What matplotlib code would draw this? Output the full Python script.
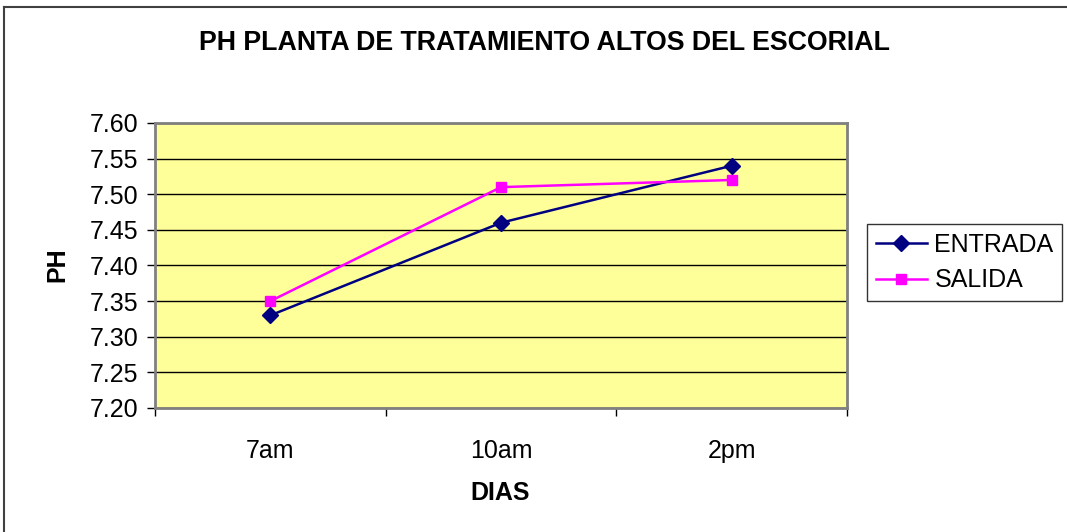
import numpy as np
import matplotlib.pyplot as plt
from matplotlib.lines import Line2D

plt.rcParams['font.family'] = ['Liberation Sans', 'DejaVu Sans']

horas = ["7am", "10am", "2pm"]
entrada = [7.33, 7.46, 7.54]
salida = [7.35, 7.51, 7.52]
yticks = [7.20, 7.25, 7.30, 7.35, 7.40, 7.45, 7.50, 7.55, 7.60]

fig = plt.figure(figsize=(10.67, 5.32), dpi=100)
ax = fig.add_axes([0.1453, 0.2331, 0.6485, 0.5357])
ax.set_facecolor("#FFFF99")

x = np.arange(len(horas))
ax.plot(x, entrada, color="#000080", lw=1.8, marker="D", ms=8.5,
        label="ENTRADA", zorder=3)
ax.plot(x, salida, color="#FF00FF", lw=1.8, marker="s", ms=7.5,
        label="SALIDA", zorder=3)

ax.set_xlim(-0.5, 2.5)
ax.set_ylim(7.20, 7.60)
ax.set_yticks(yticks)
ax.set_yticklabels(["%.2f" % v for v in yticks], fontsize=18)
ax.set_xticks(x)
ax.set_xticklabels(horas, fontsize=18)
ax.set_xticks([-0.5, 0.5, 1.5, 2.5], minor=True)
ax.tick_params(axis="x", which="major", length=0, pad=22)
ax.tick_params(axis="x", which="minor", length=6, width=1, color="black")
ax.tick_params(axis="y", length=6, width=1, color="black", pad=6)
ax.grid(axis="y", color="black", lw=1)
ax.set_axisbelow(True)
for s in ax.spines.values():
    s.set_color("#808080")
    s.set_linewidth(2)

fig.text(0.51, 0.919, "PH PLANTA DE TRATAMIENTO ALTOS DEL ESCORIAL",
         ha="center", va="center", fontsize=19.3, fontweight="bold")
fig.text(0.054, 0.502, "PH", rotation=90, ha="center", va="center",
         fontsize=18, fontweight="bold")
fig.text(0.469, 0.073, "DIAS", ha="center", va="center",
         fontsize=18, fontweight="bold")

leg = fig.legend(loc="center left", bbox_to_anchor=(0.8125, 0.506),
                 fontsize=18, frameon=True, fancybox=False, edgecolor="black",
                 borderpad=0.35, handlelength=2.05, labelspacing=0.45,
                 handletextpad=0.3, borderaxespad=0)
leg.get_frame().set_linewidth(1)

# outer chart frame (top and left edges)
fig.add_artist(Line2D([0.0035, 1.0], [0.986, 0.986], color="#404040", lw=1.5))
fig.add_artist(Line2D([0.0035, 0.0035], [0.0, 0.986], color="#404040", lw=1.5))

fig.savefig("out.png", dpi=100)
